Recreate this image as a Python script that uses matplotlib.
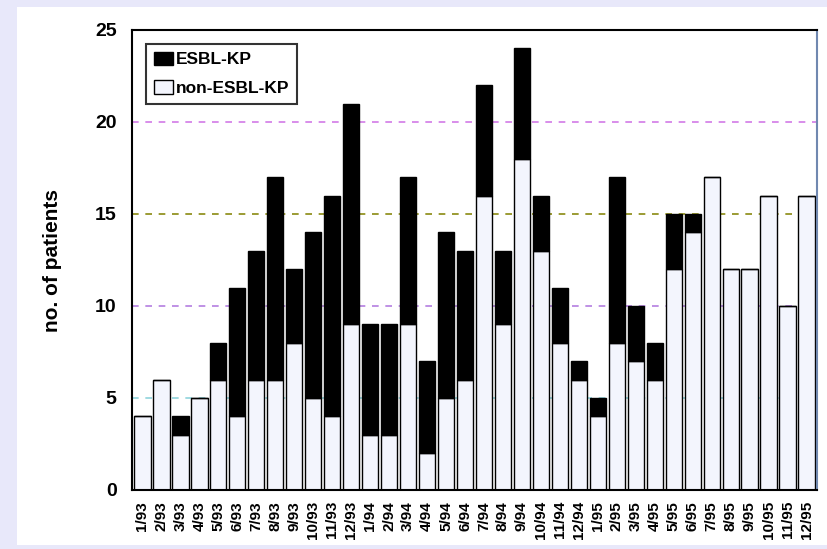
import matplotlib.pyplot as plt
import numpy as np

# monthly patient counts, Jan 1993 - Dec 1995
months = ["1/93", "2/93", "3/93", "4/93", "5/93", "6/93", "7/93", "8/93", "9/93",
          "10/93", "11/93", "12/93",
          "1/94", "2/94", "3/94", "4/94", "5/94", "6/94", "7/94", "8/94", "9/94",
          "10/94", "11/94", "12/94",
          "1/95", "2/95", "3/95", "4/95", "5/95", "6/95", "7/95", "8/95", "9/95",
          "10/95", "11/95", "12/95"]
non_esbl = [4, 6, 3, 5, 6, 4, 6, 6, 8, 5, 4, 9,
            3, 3, 9, 2, 5, 6, 16, 9, 18, 13, 8, 6,
            4, 8, 7, 6, 12, 14, 17, 12, 12, 16, 10, 16]
esbl = [0, 0, 1, 0, 2, 7, 7, 11, 4, 9, 12, 12,
        6, 6, 8, 5, 9, 7, 6, 4, 6, 3, 3, 1,
        1, 9, 3, 2, 3, 1, 0, 0, 0, 0, 0, 0]
grid_levels = [5, 10, 15, 20]
grid_colors = ["#8fd3dc", "#b47ee0", "#8a8a10", "#d27ae6"]

plt.rcParams["font.family"] = ["Liberation Sans", "DejaVu Sans"]
plt.rcParams["font.weight"] = "bold"

fig = plt.figure(figsize=(8.27, 5.49), dpi=100, facecolor="#e8e8fa")
# white panel over the lavender frame
fig.patches.append(plt.Rectangle((17 / 827, 4 / 549), 810 / 827, 538 / 549,
                                 transform=fig.transFigure, facecolor="white",
                                 edgecolor="none", zorder=-10))
ax = fig.add_axes([132 / 827, 59 / 549, 685 / 827, 460 / 549])
ax.set_zorder(5)
ax.set_facecolor("white")

x = np.arange(len(months))
for level, color in zip(grid_levels, grid_colors):
    ax.axhline(level, color=color, linestyle=(0, (4, 4)), linewidth=1.2, zorder=0)

ax.bar(x, non_esbl, width=0.86, color="#f3f5fd", edgecolor="black",
       linewidth=1.0, label="non-ESBL-KP", zorder=2)
ax.bar(x, esbl, width=0.86, bottom=non_esbl, color="black", edgecolor="black",
       linewidth=1.0, label="ESBL-KP", zorder=2)

ax.set_xlim(-0.55, len(months) - 0.45)
ax.set_ylim(0, 25)
ax.set_yticks([0, 5, 10, 15, 20, 25])
ax.set_xticks(x)
ax.set_xticklabels(months, rotation=90, fontsize=11, fontweight="bold")
ax.tick_params(axis="y", length=0, labelsize=14, pad=11)
ax.tick_params(axis="x", length=0, pad=8)
ax.set_ylabel("no. of patients", fontsize=15, fontweight="bold", labelpad=24)

for side in ["left", "top", "bottom"]:
    ax.spines[side].set_linewidth(1.5)
ax.spines["right"].set_color("#7088b0")
ax.spines["right"].set_linewidth(1.5)

handles, labels = ax.get_legend_handles_labels()
leg = ax.legend(handles[::-1], labels[::-1], loc="upper left",
                bbox_to_anchor=(0.021, 0.97), borderaxespad=0, fontsize=12.5,
                frameon=True, fancybox=False, edgecolor="black",
                handlelength=1.1, handleheight=0.8, handletextpad=0.15,
                borderpad=0.45, labelspacing=0.75)
leg.get_frame().set_linewidth(1.5)

fig.savefig("out.png", dpi=100, facecolor=fig.get_facecolor())
